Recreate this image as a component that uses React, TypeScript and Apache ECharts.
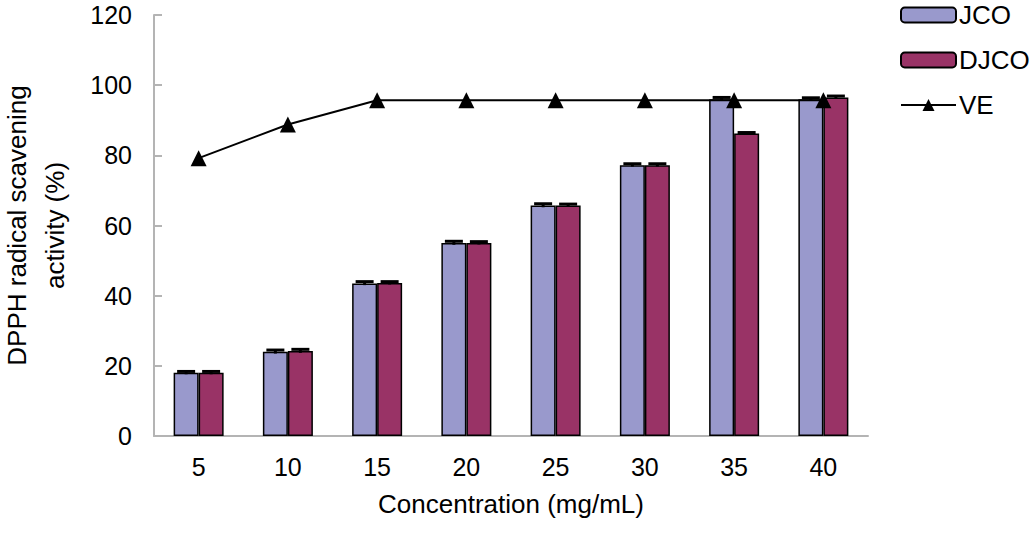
import React, { useEffect, useRef } from "react";
import * as echarts from "echarts";

const concentrations = ["5", "10", "15", "20", "25", "30", "35", "40"];
const jcoValues = [18, 24, 43.5, 55, 65.7, 77.2, 96, 96];
const djcoValues = [18, 24.2, 43.6, 55, 65.7, 77.2, 86.2, 96.5];
const veValues = [79.2, 88.8, 95.7, 95.7, 95.7, 95.7, 95.7, 95.7];
const jcoErrors = [0.4, 0.5, 0.5, 0.5, 0.5, 0.4, 0.5, 0.4];
const djcoErrors = [0.4, 0.5, 0.4, 0.4, 0.4, 0.4, 0.3, 0.4];

const axisGrey = "#b4b4b4";
const font = "Liberation Sans, Arial, sans-serif";

const App: React.FC = () => {
  const chartRef = useRef<HTMLDivElement>(null);

  useEffect(() => {
    if (!chartRef.current) return;
    const chart = echarts.init(chartRef.current, null, { renderer: "svg" });

    // error caps drawn on top of each bar, offset by half a bar
    const errorSeries = (values: number[], errors: number[], offset: number) => ({
      type: "custom",
      z: 5,
      silent: true,
      data: values.map((v, i) => [i, v, errors[i]]),
      renderItem: (params: any, api: any) => {
        const idx = api.value(0);
        const val = api.value(1);
        const err = api.value(2);
        const hi = api.coord([idx, val + err]);
        const lo = api.coord([idx, val - err]);
        const x = hi[0] + offset;
        const half = 9;
        const style = { stroke: "#000", lineWidth: 3 };
        return {
          type: "group",
          children: [
            { type: "line", shape: { x1: x, y1: lo[1], x2: x, y2: hi[1] }, style },
            { type: "line", shape: { x1: x - half, y1: hi[1], x2: x + half, y2: hi[1] }, style },
          ],
        };
      },
    });

    chart.setOption({
      animation: false,
      textStyle: { fontFamily: font, color: "#000" },
      grid: { left: 154, right: 165, top: 15, bottom: 97, outerBoundsMode: "none", containLabel: false },
      legend: {
        orient: "vertical",
        left: 895,
        top: -3,
        itemWidth: 55,
        itemHeight: 15,
        itemGap: 19,
        textStyle: { fontSize: 26, color: "#000", fontFamily: font, padding: [0, 0, 0, -2] },
        data: ["JCO", "DJCO", "VE"],
      },
      xAxis: {
        type: "category",
        data: concentrations,
        name: "Concentration (mg/mL)",
        nameLocation: "middle",
        nameGap: 55,
        nameTextStyle: { fontSize: 26, color: "#000" },
        axisLine: { lineStyle: { color: axisGrey, width: 2 } },
        axisTick: { inside: true, length: 7, lineStyle: { color: axisGrey, width: 2 } },
        axisLabel: { fontSize: 25, color: "#000", margin: 18 },
      },
      yAxis: {
        type: "value",
        min: 0,
        max: 120,
        interval: 20,
        name: "DPPH radical scavening\nactivity (%)",
        nameLocation: "middle",
        nameGap: 80,
        nameTextStyle: { fontSize: 26, color: "#000", lineHeight: 38 },
        splitLine: { show: false },
        axisLine: { show: true, lineStyle: { color: axisGrey, width: 2 } },
        axisTick: { show: true, inside: true, length: 8, lineStyle: { color: axisGrey, width: 2 } },
        axisLabel: { fontSize: 25, color: "#000", margin: 22, lineHeight: 22 },
      },
      series: [
        {
          name: "JCO",
          type: "bar",
          data: jcoValues,
          barWidth: 25,
          barGap: "0%",
          itemStyle: { color: "#9999cc", borderColor: "#000", borderWidth: 1.5 },
        },
        {
          name: "DJCO",
          type: "bar",
          data: djcoValues,
          barWidth: 25,
          barGap: "0%",
          itemStyle: { color: "#993366", borderColor: "#000", borderWidth: 1.5 },
        },
        errorSeries(jcoValues, jcoErrors, -12.5),
        errorSeries(djcoValues, djcoErrors, 12.5),
        {
          name: "VE",
          type: "line",
          data: veValues,
          z: 10,
          symbol: "triangle",
          symbolSize: 16,
          lineStyle: { color: "#000", width: 2 },
          itemStyle: { color: "#000" },
        },
      ],
    });

    return () => {
      chart.dispose();
    };
  }, []);

  return (
    <div
      ref={chartRef}
      style={{ position: "fixed", left: 0, top: 0, width: "1033px", height: "533px", background: "#fff" }}
    />
  );
};

export default App;
